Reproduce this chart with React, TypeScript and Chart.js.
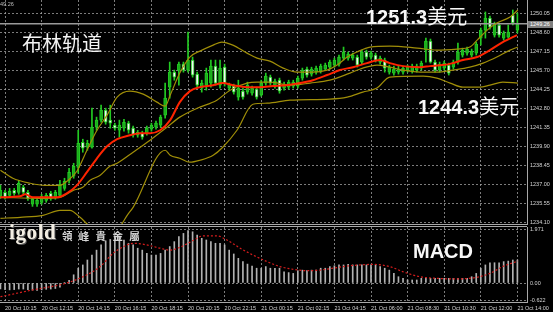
import React, { useEffect, useRef } from 'react';
import { Chart, registerables } from 'chart.js';

Chart.register(...registerables);

// ---- 15-minute candles (bar index 0..113) ----
const opens = [1236.13,1236.43,1236.20,1236.58,1236.43,1236.81,1236.43,1235.52,1235.52,1235.67,
1235.82,1236.35,1236.05,1236.20,1236.73,1237.34,1237.65,1238.33,1240.24,1239.86,
1239.86,1241.38,1241.92,1242.68,1241.92,1241.54,1241.15,1241.31,1241.69,1241.31,
1240.77,1240.93,1240.93,1241.23,1241.38,1241.54,1242.30,1244.43,1245.57,1245.73,
1246.18,1245.73,1246.49,1245.42,1244.36,1244.58,1244.74,1246.03,1244.58,1245.95,
1244.36,1244.51,1243.67,1244.13,1244.05,1243.97,1244.28,1243.82,1244.74,1245.19,
1244.51,1244.96,1244.36,1244.43,1244.51,1244.51,1245.12,1245.80,1245.42,1245.57,
1245.65,1245.80,1245.95,1246.11,1246.18,1246.64,1246.64,1246.64,1246.72,1246.34,
1247.10,1246.72,1246.87,1246.34,1246.49,1245.57,1245.50,1245.57,1245.57,1245.73,
1245.65,1245.73,1245.88,1247.25,1247.94,1246.34,1245.73,1245.88,1246.11,1245.95,
1246.34,1246.87,1247.02,1246.87,1247.02,1248.16,1248.77,1249.69,1248.39,1249.16,
1248.16,1248.24,1249.92,1248.77];
const highs = [1236.96,1236.58,1236.73,1236.73,1237.34,1236.96,1236.58,1236.05,1235.97,1236.28,
1236.35,1236.51,1236.58,1237.34,1237.50,1238.26,1238.64,1241.15,1240.47,1240.39,
1242.83,1242.15,1243.06,1242.83,1243.06,1241.69,1241.92,1241.99,1241.84,1241.46,
1241.15,1241.08,1241.46,1241.69,1241.84,1242.30,1244.74,1246.34,1245.73,1246.34,
1246.34,1248.62,1246.72,1245.57,1244.96,1245.88,1246.49,1246.49,1246.49,1246.18,
1244.74,1244.66,1244.96,1244.36,1244.81,1244.51,1244.43,1244.96,1245.50,1245.35,
1245.04,1245.12,1244.81,1244.96,1244.96,1245.27,1245.88,1245.95,1245.95,1246.03,
1246.18,1246.26,1246.49,1246.64,1246.87,1247.48,1247.10,1247.02,1246.87,1247.25,
1247.25,1247.17,1247.02,1246.79,1246.64,1246.11,1246.03,1246.03,1246.03,1246.11,
1246.18,1246.18,1246.41,1248.16,1248.09,1246.49,1246.34,1246.41,1246.26,1246.49,
1247.78,1247.40,1247.48,1247.33,1247.86,1248.93,1250.15,1249.84,1249.38,1249.31,
1248.70,1249.16,1250.30,1250.07];
const lows = [1235.97,1235.90,1236.05,1236.20,1236.28,1236.28,1235.82,1235.36,1235.36,1235.52,
1235.67,1235.82,1235.90,1236.05,1236.58,1237.12,1237.50,1237.88,1239.48,1239.63,
1239.78,1241.15,1241.76,1241.61,1241.31,1241.15,1240.62,1241.08,1240.93,1240.62,
1240.62,1240.47,1240.77,1241.08,1241.23,1241.38,1242.07,1243.59,1244.96,1244.58,
1245.57,1245.57,1245.19,1244.43,1244.05,1244.20,1244.43,1244.58,1244.36,1244.51,
1244.20,1243.90,1243.44,1243.52,1243.90,1243.82,1243.52,1243.74,1244.58,1244.58,
1244.36,1243.97,1244.20,1244.28,1244.36,1244.36,1244.96,1245.19,1245.27,1245.42,
1245.50,1245.73,1245.80,1245.95,1246.03,1246.49,1246.49,1246.49,1245.95,1246.18,
1246.56,1246.56,1246.34,1246.18,1245.57,1245.42,1245.35,1245.42,1245.42,1245.57,
1245.50,1245.57,1245.73,1246.34,1246.26,1245.57,1245.57,1245.73,1245.35,1245.80,
1246.18,1246.72,1246.87,1246.72,1246.87,1247.63,1248.16,1248.85,1248.24,1248.24,
1248.01,1248.16,1249.16,1248.55];
const closes = [1236.58,1236.05,1236.51,1236.35,1237.12,1236.43,1235.97,1235.90,1235.82,1236.13,
1236.20,1235.97,1236.43,1237.04,1237.27,1237.96,1238.41,1240.16,1239.78,1240.16,
1241.38,1241.92,1242.68,1241.76,1241.69,1241.31,1241.54,1241.76,1241.15,1240.77,
1241.00,1240.62,1241.31,1241.54,1241.69,1242.15,1243.59,1245.57,1245.19,1246.18,
1245.73,1246.49,1245.35,1244.58,1244.74,1245.50,1246.03,1244.74,1245.88,1244.74,
1244.58,1244.05,1244.36,1243.67,1244.58,1244.36,1243.67,1244.74,1245.27,1244.74,
1244.89,1244.13,1244.66,1244.81,1244.81,1245.12,1245.73,1245.35,1245.80,1245.88,
1246.03,1246.11,1246.34,1246.49,1246.72,1247.10,1246.95,1246.87,1246.11,1247.10,
1246.72,1247.02,1246.49,1246.64,1245.88,1245.95,1245.80,1245.80,1245.88,1245.95,
1246.03,1246.03,1246.26,1247.94,1246.34,1245.73,1246.18,1246.26,1245.50,1246.34,
1247.10,1247.25,1247.33,1247.17,1247.71,1248.77,1249.69,1249.00,1249.23,1248.39,
1248.55,1248.62,1249.31,1249.23];

// ---- Bollinger bands (read at knots: bar index, price) ----
const upperX = [0,2.7,6.5,9.7,13.0,14.5,16.7,18.9,21.1,23.3,25.5,28.3,31.2,34.2,36.0,37.1,39.2,41.4,43.6,46.5,48.4,50.8,53.9,56.1,58.9,61.8,64.8,68.3,71.4,73.6,75.8,77.9,80.8,85.1,91.1,95.4,99.8,102.6,104.2,106.4,108.5,111.4,113.1];
const upperY = [1238.11,1237.50,1237.12,1236.96,1236.96,1237.27,1238.03,1239.63,1241.15,1242.30,1243.67,1244.13,1243.90,1243.29,1242.98,1243.82,1245.50,1246.72,1247.17,1247.63,1247.86,1247.63,1247.02,1246.64,1246.41,1245.88,1245.57,1245.57,1245.73,1246.11,1246.72,1247.10,1247.48,1247.55,1247.40,1247.25,1247.33,1247.48,1248.01,1248.77,1249.31,1249.76,1250.30];
const middleX = [0,8.6,13.0,15.9,18.0,19.6,21.8,23.9,25.5,29.0,32.7,36.4,39.2,43.0,47.3,50.2,53.9,56.1,58.9,63.3,67.7,72.0,76.4,79.2,82.3,85.1,88.0,91.7,95.4,98.9,102.6,105.5,108.5,111.4,113.1];
const middleY = [1236.05,1235.97,1236.05,1236.58,1236.81,1237.34,1237.73,1238.41,1238.64,1239.48,1240.39,1241.38,1242.15,1242.83,1243.44,1244.20,1244.74,1244.81,1244.81,1244.58,1244.74,1244.96,1245.50,1245.88,1246.11,1245.95,1245.73,1245.57,1245.57,1245.73,1245.95,1246.26,1246.72,1247.25,1247.48];
const lowerX = [0,4.3,9.3,13.0,15.2,17.4,19.6,22.9,26.1,27.7,29.0,36.0,37.1,39.2,41.4,43.6,46.5,48.6,51.7,55.2,58.3,63.3,72.0,75.8,79.2,82.3,85.1,92.4,95.4,98.3,101.1,104.8,107.0,109.8,113.1];
const lowerY = [1234.45,1234.53,1234.68,1235.06,1235.06,1234.53,1233.84,1233.50,1233.84,1234.68,1235.29,1239.63,1239.25,1239.02,1238.72,1238.87,1239.25,1239.86,1241.15,1243.13,1243.21,1243.44,1243.52,1243.67,1244.05,1244.36,1245.19,1245.27,1245.12,1244.74,1244.43,1244.43,1244.58,1244.81,1244.74];

// ---- red moving average ----
const maX = [0,4.3,5.4,7.1,12.4,14.5,16.7,18.9,21.1,23.3,25.5,28.3,30.5,32.7,34.9,37.1,39.2,41.4,43.6,46.5,48.6,50.8,53.9,56.7,59.6,62.6,65.5,68.3,71.4,74.2,77.1,80.1,83.0,85.1,88.0,91.7,93.9,96.7,98.9,101.1,104.2,107.0,109.8,112.9];
const maY = [1236.05,1236.13,1236.28,1236.05,1236.05,1236.35,1236.96,1237.96,1239.02,1239.93,1240.47,1240.77,1240.93,1240.93,1241.15,1241.92,1243.29,1244.13,1244.43,1244.58,1244.74,1244.58,1244.43,1244.43,1244.51,1244.58,1244.74,1244.96,1245.35,1245.73,1245.95,1246.26,1246.49,1246.26,1246.03,1245.95,1246.03,1246.11,1246.26,1246.49,1246.72,1247.25,1247.86,1248.39];

const currentPrice = 1249.26;

// ---- MACD ----
const macdHist = [-0.22,-0.24,-0.25,-0.24,-0.22,-0.22,-0.24,-0.26,-0.27,-0.25,
-0.23,-0.22,-0.20,-0.15,0.02,0.10,0.30,0.54,0.66,0.84,
1.02,1.20,1.39,1.54,1.59,1.67,1.69,1.57,1.45,1.39,
1.27,1.20,1.08,1.02,1.02,1.08,1.20,1.33,1.51,1.69,
1.81,1.91,1.87,1.75,1.63,1.57,1.51,1.45,1.45,1.39,
1.20,1.06,0.90,0.78,0.69,0.62,0.54,0.54,0.60,0.54,
0.54,0.54,0.41,0.38,0.35,0.45,0.47,0.45,0.47,0.47,
0.54,0.54,0.60,0.63,0.66,0.66,0.68,0.66,0.66,0.66,
0.66,0.66,0.66,0.60,0.54,0.47,0.35,0.23,0.17,0.11,
0.11,0.11,0.17,0.17,0.17,0.17,0.17,0.17,0.17,0.17,
0.17,0.17,0.17,0.23,0.35,0.54,0.66,0.74,0.74,0.74,
0.78,0.80,0.84,0.84];
const signalX = [0,7.1,14.5,18.9,21.8,24.6,27.7,29.0,32.0,34.9,37.1,39.2,42.1,44.3,47.3,49.5,52.4,55.2,58.3,61.1,64.0,67.0,69.8,72.7,75.8,78.6,81.4,85.1,88.0,91.7,95.4,99.8,104.2,107.0,109.8,113.1];
const signalY = [-0.5,-0.25,0.0,0.3,0.6,1.08,1.39,1.45,1.39,1.27,1.2,1.3,1.55,1.72,1.72,1.57,1.27,1.02,0.78,0.6,0.5,0.45,0.47,0.54,0.62,0.66,0.68,0.6,0.41,0.23,0.17,0.15,0.21,0.35,0.6,0.8];

// ---- axes ----
const priceTicks = [1250.05,1248.60,1247.15,1245.70,1244.25,1242.80,1241.35,1239.90,1238.45,1237.00,1235.55,1234.10];
const macdTicks = [1.971, 0, -0.622];
const macdTickLabels = ['1.971', '0.00', '-0.622'];
const timeTickBars = [1,9,17,25,33,41,49,57,65,73,81,89,97,105,113];
const timeTickLabels = ['20 Oct 10:15','20 Oct 12:15','20 Oct 14:15','20 Oct 16:15','20 Oct 18:15','20 Oct 20:15','20 Oct 22:15','21 Oct 00:15','21 Oct 02:15','21 Oct 04:15','21 Oct 06:00','21 Oct 08:30','21 Oct 10:30','21 Oct 12:00','21 Oct 14:00'];

const X_MIN = -0.1, X_MAX = 115.1;
const PRICE_MIN = 1234.02, PRICE_MAX = 1251.06;
const MACD_MIN = -0.693, MACD_MAX = 2.044;

const GREEN = '#22cc22';
const BULL_FILL = '#1caa1c';
const BAND = '#a08e08';
const GRID = 'rgba(165,165,165,0.75)';
const AXIS = '#a8a8a8';
const TICK = '#d4d4d4';
const tickFont = { family: "'Liberation Sans', Arial, sans-serif", size: 5.5 };

const pts = (xs: number[], ys: number[]) => xs.map((x, i) => ({ x, y: ys[i] }));

export default function App() {
  const mainRef = useRef<HTMLCanvasElement>(null);
  const macdRef = useRef<HTMLCanvasElement>(null);

  useEffect(() => {
    document.body.style.margin = '0';
    document.body.style.background = '#000';

    const bars = opens.map((_, i) => i);
    const lineDs = (data: any[], color: string, width: number, order: number, extra: any = {}) => ({
      type: 'line', data, borderColor: color, borderWidth: width, pointRadius: 0,
      cubicInterpolationMode: 'monotone', fill: false, order, ...extra,
    });

    const xBase = (showLabels: boolean, height: number) => ({
      type: 'linear', min: X_MIN, max: X_MAX, offset: false, bounds: 'data',
      grid: { color: GRID, drawTicks: false, offset: false, lineWidth: 1 },
      border: { display: true, color: AXIS, dash: [2, 2] },
      ticks: {
        display: showLabels, color: TICK, font: tickFont, padding: 3, autoSkip: false,
        maxRotation: 0, minRotation: 0, align: 'start',
        callback: (_v: any, i: number) => timeTickLabels[i],
      },
      afterBuildTicks: (s: any) => { s.ticks = timeTickBars.map((v) => ({ value: v })); },
      afterFit: (s: any) => { s.height = height; s.paddingLeft = 0; s.paddingRight = 0; },
    });

    const main = new Chart(mainRef.current!, {
      type: 'bar',
      data: {
        datasets: [
          lineDs(pts(maX, maY), '#ff2400', 2, 0),
          lineDs(pts(upperX, upperY), BAND, 1.2, 1),
          lineDs(pts(middleX, middleY), BAND, 1.2, 1),
          lineDs(pts(lowerX, lowerY), BAND, 1.2, 1),
          lineDs([{ x: X_MIN, y: currentPrice }, { x: X_MAX, y: currentPrice }], '#9a9a9a', 1.5, 3, { cubicInterpolationMode: 'default', tension: 0 }),
          {
            type: 'bar', order: 4, grouped: false,
            data: bars.map((i) => ({ x: i, y: [opens[i], closes[i]] })),
            backgroundColor: bars.map((i) => (closes[i] >= opens[i] ? BULL_FILL : '#f4f4f4')),
            borderColor: GREEN, borderWidth: 1, borderSkipped: false,
            barThickness: 3, maxBarThickness: 3,
          },
          {
            type: 'bar', order: 5, grouped: false,
            data: bars.map((i) => ({ x: i, y: [lows[i], highs[i]] })),
            backgroundColor: GREEN, borderWidth: 0,
            barThickness: 1, maxBarThickness: 1,
          },
        ] as any,
      },
      options: {
        animation: false, responsive: false, maintainAspectRatio: false, devicePixelRatio: 1,
        events: [],
        layout: { padding: 0, autoPadding: false },
        plugins: { legend: { display: false }, tooltip: { enabled: false } },
        scales: {
          x: xBase(false, 2) as any,
          y: {
            type: 'linear', position: 'right', min: PRICE_MIN, max: PRICE_MAX, bounds: 'data',
            grid: { color: GRID, drawTicks: false, lineWidth: 1 },
            border: { display: true, color: AXIS, dash: [2, 2] },
            ticks: { color: TICK, font: tickFont, padding: 3, autoSkip: false, callback: (v: any) => Number(v).toFixed(2) },
            afterBuildTicks: (s: any) => { s.ticks = priceTicks.map((v) => ({ value: v })); },
            afterFit: (s: any) => { s.width = 26; s.paddingTop = 0; s.paddingBottom = 0; },
          } as any,
        },
      },
    });

    const topLine = {
      id: 'topLine',
      afterDraw(chart: any) {
        const { ctx, chartArea } = chart;
        ctx.save();
        ctx.strokeStyle = AXIS;
        ctx.lineWidth = 1;
        ctx.beginPath();
        ctx.moveTo(0, chartArea.top - 0.5);
        ctx.lineTo(chartArea.right, chartArea.top - 0.5);
        ctx.stroke();
        ctx.restore();
      },
    };

    const macd = new Chart(macdRef.current!, {
      type: 'bar',
      data: {
        datasets: [
          lineDs(pts(signalX, signalY), '#d41c1c', 1.2, 0, { borderDash: [2, 2] }),
          {
            type: 'bar', order: 1,
            data: bars.map((i) => ({ x: i, y: macdHist[i] })),
            backgroundColor: '#b2b2b2', borderWidth: 0,
            barThickness: 1, maxBarThickness: 1,
          },
        ] as any,
      },
      options: {
        animation: false, responsive: false, maintainAspectRatio: false, devicePixelRatio: 1,
        events: [],
        layout: { padding: { top: 3, left: 0, right: 0, bottom: 0 }, autoPadding: false },
        plugins: { legend: { display: false }, tooltip: { enabled: false } },
        scales: {
          x: xBase(true, 10) as any,
          y: {
            type: 'linear', position: 'right', min: MACD_MIN, max: MACD_MAX, bounds: 'data',
            grid: { color: GRID, drawTicks: false, lineWidth: 1 },
            border: { display: true, color: AXIS, dash: [2, 2] },
            ticks: { color: TICK, font: tickFont, padding: 3, autoSkip: false, callback: (_v: any, i: number) => macdTickLabels[i] },
            afterBuildTicks: (s: any) => { s.ticks = macdTicks.map((v) => ({ value: v })); },
            afterFit: (s: any) => { s.width = 26; s.paddingTop = 0; s.paddingBottom = 0; },
          } as any,
        },
      },
      plugins: [topLine],
    });

    return () => { main.destroy(); macd.destroy(); };
  }, []);

  const abs = (left: number, top: number, extra: React.CSSProperties = {}): React.CSSProperties => ({
    position: 'absolute', left, top, whiteSpace: 'nowrap', margin: 0, ...extra,
  });
  const numFont = "'Liberation Sans', Arial, sans-serif";
  const cjk = "'Noto Sans CJK SC', sans-serif";

  return (
    <div style={{ position: 'fixed', left: 0, top: 0, width: 553, height: 312, background: '#000', overflow: 'hidden' }}>
      <canvas ref={mainRef} width={553} height={226} style={{ position: 'absolute', left: 0, top: 0, width: 553, height: 226 }} />
      <canvas ref={macdRef} width={553} height={88} style={{ position: 'absolute', left: 0, top: 224, width: 553, height: 88 }} />

      <div style={abs(0, 1, { fontFamily: numFont, fontSize: 5.5, lineHeight: '7px', color: '#bdbdbd' })}>49.26</div>
      <div style={abs(528, 20.5, { width: 25, height: 7, background: '#7e7e7e', fontFamily: numFont, fontSize: 5.5, lineHeight: '7px', color: '#ffffff', paddingLeft: 2, boxSizing: 'border-box' })}>1249.26</div>

      <div style={abs(22, 33, { fontFamily: cjk, fontSize: 20, lineHeight: '20px', color: '#f2f2f2' })}>布林轨道</div>
      <div style={abs(366, 6, { fontSize: 20, lineHeight: '20px', color: '#f8f8f8' })}>
        <span style={{ fontFamily: numFont, fontWeight: 'bold' }}>1251.3</span>
        <span style={{ fontFamily: cjk }}>美元</span>
      </div>
      <div style={abs(418, 96, { fontSize: 20, lineHeight: '20px', color: '#f8f8f8' })}>
        <span style={{ fontFamily: numFont, fontWeight: 'bold' }}>1244.3</span>
        <span style={{ fontFamily: cjk }}>美元</span>
      </div>
      <div style={abs(413, 241, { fontFamily: numFont, fontWeight: 'bold', fontSize: 20, lineHeight: '20px', color: '#f8f8f8' })}>MACD</div>

      <div style={abs(9, 221.5, { fontFamily: "'Liberation Serif', 'DejaVu Serif', serif", fontWeight: 'bold', fontSize: 21, lineHeight: '21px', letterSpacing: 0.6, color: '#f3eee2', textShadow: '1px 1px 0 #5a5a5a' })}>igold</div>
      <div style={abs(62, 229.5, { fontFamily: "'Noto Sans CJK TC', sans-serif", fontWeight: 'bold', fontSize: 10.5, lineHeight: '11px', letterSpacing: 6.3, color: '#d6d6d6' })}>領峰貴金屬</div>
    </div>
  );
}
